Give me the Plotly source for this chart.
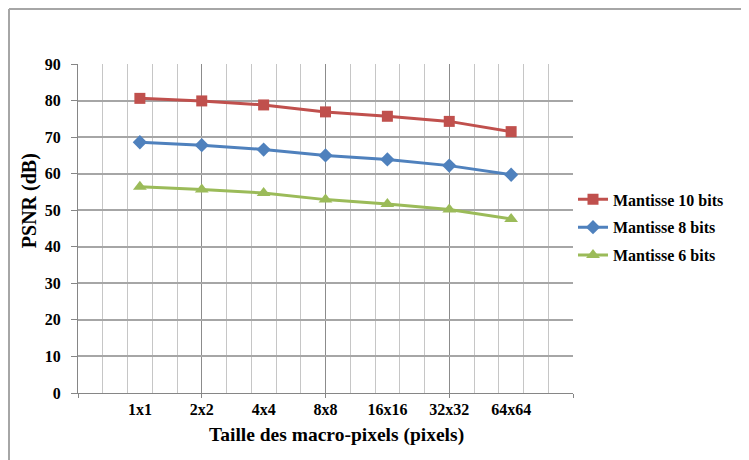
import plotly.graph_objects as go

categories = ["1x1", "2x2", "4x4", "8x8", "16x16", "32x32", "64x64"]
positions = [1, 2, 3, 4, 5, 6, 7]
mant10 = [80.6, 79.9, 78.8, 76.9, 75.7, 74.3, 71.5]
mant8 = [68.6, 67.8, 66.6, 65.0, 63.9, 62.2, 59.7]
mant6 = [56.4, 55.7, 54.7, 52.9, 51.7, 50.2, 47.6]
y_ticks = [0, 10, 20, 30, 40, 50, 60, 70, 80, 90]

series = [
    ("Mantisse 10 bits", mant10, "#C0504D", "square", 11),
    ("Mantisse 8 bits", mant8, "#4F81BD", "diamond", 11),
    ("Mantisse 6 bits", mant6, "#9BBB59", "triangle-up", 12),
]

FONT = "'Liberation Serif', 'Times New Roman', 'DejaVu Serif', serif"

fig = go.Figure()
# transparent carrier trace so the grid axis (x) subplot exists
fig.add_trace(go.Scatter(
    x=positions, y=mant10, xaxis="x", yaxis="y", mode="lines",
    line=dict(width=0, color="rgba(0,0,0,0)"), showlegend=False, hoverinfo="skip",
))
for i, (name, vals, col, sym, sz) in enumerate(series):
    fig.add_trace(go.Scatter(
        x=positions, y=vals, name=name, mode="lines+markers",
        xaxis="x2", yaxis="y",
        line=dict(color=col, width=3),
        marker=dict(symbol=sym, size=sz, color=col),
        legendgroup=str(i),
    ))

fig.update_layout(
    template="none",
    width=741, height=452,
    margin=dict(l=70, r=176, t=56, b=67, autoexpand=False),
    paper_bgcolor="white", plot_bgcolor="white",
    font=dict(family=FONT, color="black"),
    showlegend=True,
    legend=dict(
        x=1.0, xanchor="left", y=0.64, yanchor="top",
        font=dict(family=FONT, size=16, color="black", weight="bold"),
        traceorder="grouped", tracegroupgap=4,
        bgcolor="rgba(0,0,0,0)",
    ),
    xaxis=dict(
        range=[0, 8], tickmode="linear", tick0=0, dtick=2, automargin=False,
        showgrid=True, gridcolor="#8C8C8C", gridwidth=1,
        minor=dict(tickmode="linear", tick0=0, dtick=0.4, showgrid=True,
                   gridcolor="#C6C6C6", gridwidth=1, ticks=""),
        ticks="outside", ticklen=4, tickcolor="#868686",
        showticklabels=False, zeroline=False,
        showline=True, linecolor="#868686", linewidth=1,
    ),
    xaxis2=dict(
        range=[0, 8], overlaying="x", anchor="y", side="bottom", automargin=False,
        tickmode="array", tickvals=positions, ticktext=categories,
        showgrid=False, ticks="", zeroline=False, showline=False,
        ticklabelstandoff=5,
        tickfont=dict(family=FONT, size=16, color="black", weight="bold"),
    ),
    yaxis=dict(
        range=[0, 90], tickmode="array", tickvals=y_ticks, automargin=False,
        showgrid=True, gridcolor="#A6A6A6", gridwidth=1.5,
        ticks="outside", ticklen=6, tickcolor="#868686",
        zeroline=False, showline=True, linecolor="#868686", linewidth=1,
        ticklabelstandoff=7,
        tickfont=dict(family=FONT, size=16, color="black", weight="bold"),
    ),
    annotations=[
        dict(text="Taille des macro-pixels (pixels)", xref="paper", yref="paper",
             x=0.523, y=-0.129, xanchor="center", yanchor="middle", showarrow=False,
             font=dict(family=FONT, size=19.5, color="black", weight="bold")),
        dict(text="PSNR (dB)", xref="paper", yref="paper", textangle=-90,
             x=-0.099, y=0.586, xanchor="center", yanchor="middle", showarrow=False,
             font=dict(family=FONT, size=20, color="black", weight="bold")),
    ],
    shapes=[
        dict(type="line", xref="paper", yref="paper", x0=-0.1394, x1=1.5, y0=1.167, y1=1.167,
             line=dict(color="#A6A6A6", width=2)),
        dict(type="line", xref="paper", yref="paper", x0=-0.1394, x1=-0.1394, y0=-0.3, y1=1.167,
             line=dict(color="#A6A6A6", width=2)),
    ],
)

fig.write_html("out.html")
